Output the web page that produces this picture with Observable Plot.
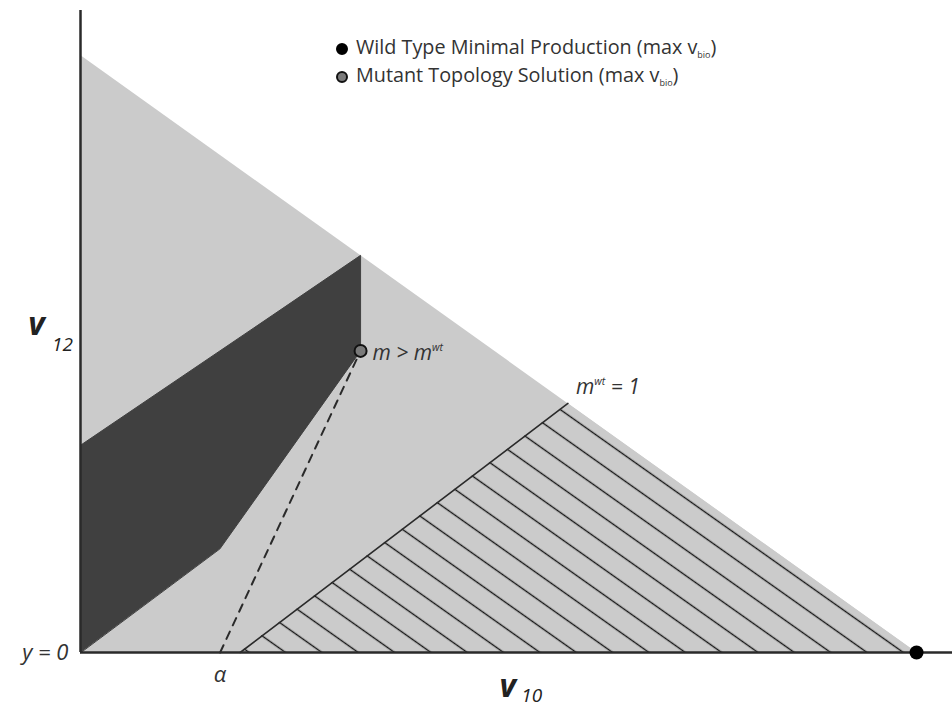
<!DOCTYPE html>
<html><head><meta charset="utf-8">
<script src="https://cdn.jsdelivr.net/npm/d3@7"></script>
<script src="https://cdn.jsdelivr.net/npm/@observablehq/plot@0.6"></script>
<style>
body{margin:0;background:#fff;}
#wrap{position:relative;width:952px;height:707px;}
#legend{position:absolute;left:336px;top:33px;font-family:"Open Sans",sans-serif;font-size:19.8px;color:#333;}
#legend div{height:28px;line-height:28px;white-space:nowrap}
#legend .sw{display:inline-block;width:12px;height:12px;border-radius:50%;margin-right:8px;vertical-align:-1px;box-sizing:border-box}
#legend sub{font-size:9px;vertical-align:-4px;line-height:0}
#defsHolder{position:absolute;width:0;height:0;overflow:hidden}
</style></head><body>
<svg id="defsHolder" width="0" height="0" aria-hidden="true"><defs>
<pattern id="hatch" patternUnits="userSpaceOnUse" x="0" y="0" width="21" height="21" patternTransform="rotate(35.3)">
<rect x="0" y="0" width="21" height="21" fill="#cbcbcb"></rect>
<line x1="-1" y1="10.5" x2="22" y2="10.5" stroke="#151515" stroke-width="1.4"></line>
</pattern></defs></svg>
<div id="wrap"><div id="legend"></div></div>
<script>
// ---- data (flux space: v10 horizontal, v12 vertical) ----
const feasibleV10 = [0, 0, 10];
const feasibleV12 = [0, 10, 0];
const mutantRegionV10 = [0, 0, 2.3, 3.35, 3.35, 1.67];
const mutantRegionV12 = [0, 3.47, 5.65, 6.65, 5.05, 1.74];
const wtRegionV10 = [1.91, 5.83, 10];
const wtRegionV12 = [0, 4.17, 0];
const dashedV10 = [1.67, 3.35];
const dashedV12 = [0, 5.05];
const pointNames = ["Wild Type Minimal Production", "Mutant Topology Solution"];
const pointV10 = [10, 3.35];
const pointV12 = [0, 5.05];
const labelText = ["y = 0", "α", "m > m^{wt}", "m^{wt} = 1"];
const labelV10 = [0, 1.67, 3.35, 5.83];
const labelV12 = [0, 0, 5.05, 4.17];
const axisSymbols = ["v", "v"];
const axisSubs = ["12", "10"];

const zip = (xs, ys) => xs.map((x, i) => ({x, y: ys[i]}));
const feasible = zip(feasibleV10, feasibleV12);
const mutantRegion = zip(mutantRegionV10, mutantRegionV12);
const wtRegion = zip(wtRegionV10, wtRegionV12);
const dashed = zip(dashedV10, dashedV12);
const points = pointNames.map((n, i) => ({name: n, x: pointV10[i], y: pointV12[i]}));
const labels = labelText.map((t, i) => ({t, x: labelV10[i], y: labelV12[i]}));

const LIGHT = "#cbcbcb", DARK = "#404040", INK = "#2a2a2a";
const font = '"Open Sans", sans-serif';

const chart = Plot.plot({
  width: 952, height: 707,
  marginLeft: 80, marginRight: 0, marginTop: 10, marginBottom: 55,
  x: {domain: [0, 10.43], axis: null},
  y: {domain: [0, 10.75], axis: null},
  style: {fontFamily: font, background: "white"},
  marks: [
    Plot.line(feasible, {x: "x", y: "y", fill: LIGHT, stroke: "none", curve: "linear-closed"}),
    // hatched wild-type region (area between v12 = 0 and the triangle edges)
    Plot.areaY(wtRegion, {x: "x", y: "y", fill: LIGHT}),
    Plot.line(wtRegion.slice(0, 2), {x: "x", y: "y", stroke: INK, strokeWidth: 1.6}),
    Plot.line(mutantRegion, {x: "x", y: "y", fill: DARK, stroke: DARK, strokeWidth: 1, curve: "linear-closed"}),
    Plot.line(dashed, {x: "x", y: "y", stroke: INK, strokeWidth: 2, strokeDasharray: "8,7"}),
    Plot.ruleX([0], {y1: 0, y2: 10.75, stroke: INK, strokeWidth: 2.5}),
    Plot.ruleY([0], {x1: 0, x2: 10.43, stroke: INK, strokeWidth: 2.5}),
    Plot.dot(points.slice(0, 1), {x: "x", y: "y", r: 7, fill: "#000", stroke: "none"}),
    Plot.dot(points.slice(1), {x: "x", y: "y", r: 6, fill: "#7a7a7a", stroke: "#111", strokeWidth: 2}),
    // corner labels
    Plot.text(labels.slice(0, 1), {x: "x", y: "y", text: "t", textAnchor: "end", dx: -12, fontSize: 22, fontStyle: "italic", fill: "#333"}),
    Plot.text(labels.slice(1, 2), {x: "x", y: "y", text: "t", dy: 22, fontSize: 22, fontStyle: "italic", fill: "#333"}),
    Plot.text(labels.slice(2, 3), {x: "x", y: "y", text: "t", textAnchor: "start", dx: 12, dy: 2, fontSize: 21, fontStyle: "italic", fill: "#333"}),
    Plot.text(labels.slice(3, 4), {x: "x", y: "y", text: "t", textAnchor: "start", dx: 8, dy: -16, fontSize: 21, fontStyle: "italic", fill: "#333"}),
    // axis names: v12 (left), v10 (bottom)
    Plot.text([axisSymbols[0]], {x: 0, y: 5.49, text: d => d, dx: -44, fontSize: 32, fontWeight: "bold", fontStyle: "italic", fill: "#222"}),
    Plot.text([axisSubs[0]], {x: 0, y: 5.49, text: d => d, dx: -18, dy: 20, fontSize: 19, fontStyle: "italic", fill: "#222"}),
    Plot.text([axisSymbols[1]], {x: 5.11, y: 0, text: d => d, dy: 34, fontSize: 32, fontWeight: "bold", fontStyle: "italic", fill: "#222"}),
    Plot.text([axisSubs[1]], {x: 5.11, y: 0, text: d => d, dx: 24, dy: 43, fontSize: 19, fontStyle: "italic", fill: "#222"})
  ]
});

// apply the hatch pattern to the area mark
const svg = d3.select(chart);
svg.selectAll('g[aria-label="area"], g[aria-label="area"] path')
  .attr("fill", "url(#hatch)").style("fill", "url(#hatch)");

// super/subscripts
svg.selectAll("text").each(function () {
  const s = this.textContent;
  if (!/[_^]\{/.test(s)) return;
  const fs = parseFloat(this.getAttribute("font-size") || d3.select(this.parentNode).attr("font-size")) || 20;
  const el = d3.select(this);
  el.text("");
  const re = /([_^])\{([^}]*)\}/g; let last = 0, m;
  while ((m = re.exec(s))) {
    if (m.index > last) el.append("tspan").text(s.slice(last, m.index));
    const t = el.append("tspan").text(m[2]);
    if (m[1] === "^") t.attr("baseline-shift", (0.42 * fs) + "px").attr("font-size", (0.5 * fs) + "px");
    else t.attr("baseline-shift", (-0.6 * fs) + "px").attr("font-size", (0.62 * fs) + "px");
    last = re.lastIndex;
  }
  if (last < s.length) el.append("tspan").text(s.slice(last));
});

document.getElementById("wrap").prepend(chart);

// legend
const legend = d3.select("#legend");
const swatch = [{fill: "#000", stroke: "#000"}, {fill: "#7a7a7a", stroke: "#111"}];
pointNames.forEach((n, i) => {
  const row = legend.append("div");
  row.append("span").attr("class", "sw").style("background", swatch[i].fill).style("border", "2px solid " + swatch[i].stroke);
  row.append("span").html(n + " (max v<sub>bio</sub>)");
});
</script>
</body></html>
